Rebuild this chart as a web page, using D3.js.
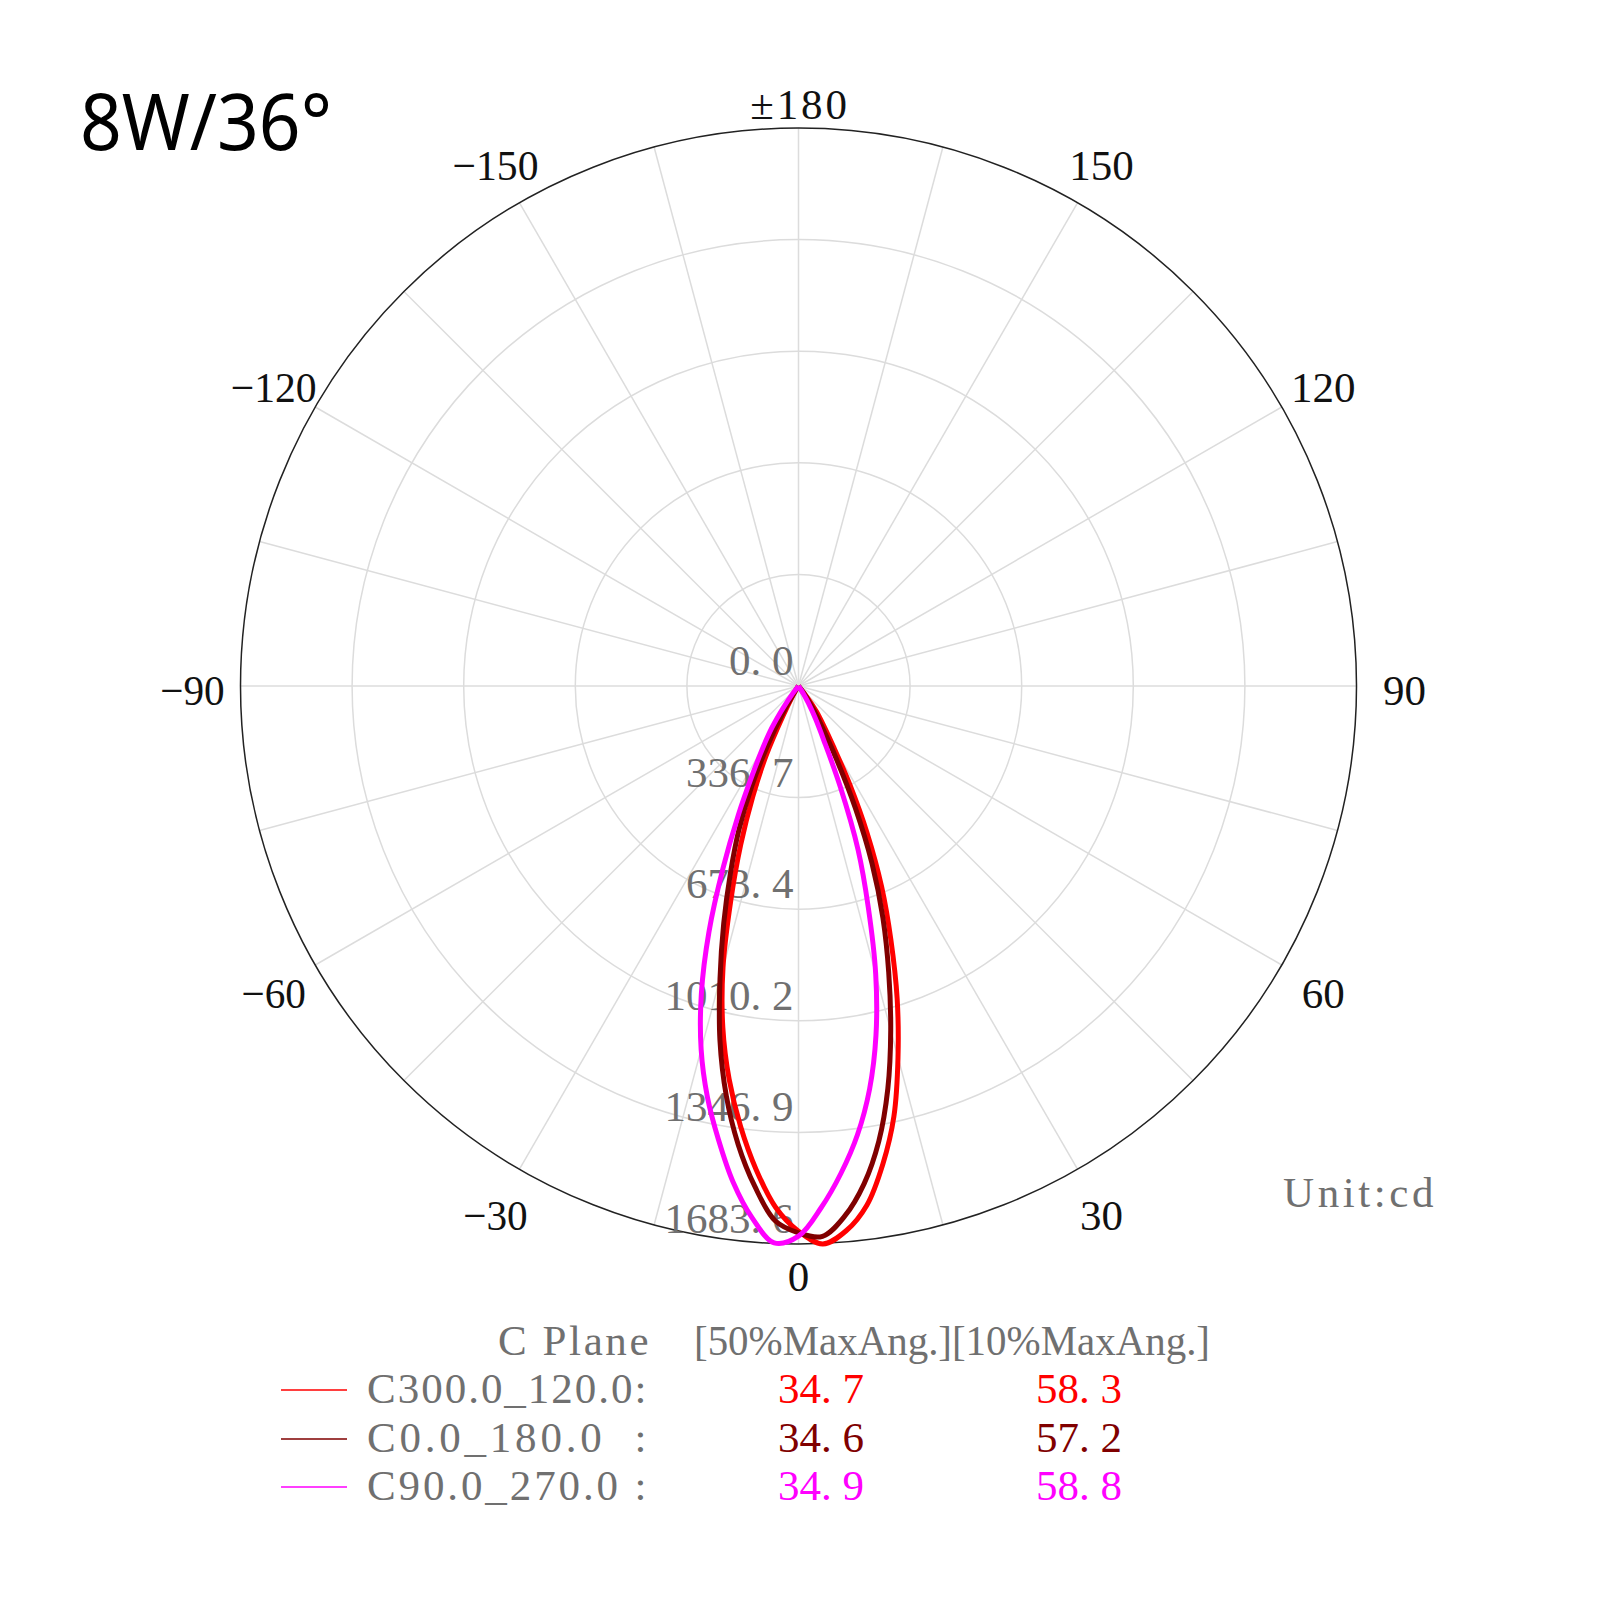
<!DOCTYPE html>
<html>
<head>
<meta charset="utf-8">
<script src="https://cdn.jsdelivr.net/npm/d3@7"></script>
<style>
  body { margin: 0; background: #fff; }
  text { white-space: pre; }
</style>
</head>
<body>
<svg id="chart" width="1600" height="1600"></svg>
<script>
// ---- data ----
const title = "8W/36°";
const unitLabel = "Unit:cd";
const maxValue = 1683.6;

// gamma angle in degrees, 0 = straight down, + to the right
const gammaAngles = [-40, -37.5, -35, -32.5, -30, -27.5, -25, -22.5, -20, -17.5, -15, -12.5, -10, -7.5, -5, -2.5,
    0, 2.5, 5, 7.5, 10, 12.5, 15, 17.5, 20, 22.5, 25, 27.5, 30, 32.5, 35, 37.5, 40];

const c300_120 = [0, 0, 0, 10, 40, 100, 230, 360, 510, 680, 880, 1055, 1205, 1340, 1465, 1575,
    1645, 1685, 1650, 1580, 1465, 1330, 1160, 990, 815, 655, 490, 335, 210, 140, 95, 45, 0];
const c0_180 = [0, 0, 5, 30, 95, 200, 335, 470, 600, 750, 915, 1095, 1255, 1395, 1515, 1615,
    1650, 1662, 1605, 1515, 1395, 1245, 1075, 905, 745, 580, 405, 245, 140, 85, 45, 15, 0];
const c90_270 = [0, 30, 80, 150, 215, 300, 430, 595, 790, 975, 1135, 1270, 1390, 1510, 1610, 1682,
    1660, 1575, 1475, 1365, 1235, 1080, 900, 700, 525, 330, 180, 110, 60, 25, 0, 0, 0];

const planeNames = ["C300.0_120.0:", "C0.0_180.0  :", "C90.0_270.0 :"];
const halfMaxAng = [34.7, 34.6, 34.9];
const tenthMaxAng = [58.3, 57.2, 58.8];
const planeColors = ["#ff0000", "#800000", "#ff00ff"];
const planeSeries = [c300_120, c0_180, c90_270];

const angleTicks = [0, 30, 60, 90, 120, 150, 180, -150, -120, -90, -60, -30];
const angleTickLabels = ["0", "30", "60", "90", "120", "150", "±180", "−150", "−120", "−90", "−60", "−30"];
const legendHeaderPlane = "C Plane";
const legendHeaderAngles = "[50%MaxAng.][10%MaxAng.]";

// ---- layout ----
const cx = 798.5, cy = 686, R = 558;
const fontSize = 43;
const serif = "'Liberation Serif', 'DejaVu Serif', serif";
const grey = "#707070";

const svg = d3.select("#chart");
const rScale = d3.scaleLinear().domain([0, maxValue]).range([0, R]);
const ringValues = d3.range(0, 6).map(i => maxValue * i / 5);
const spokeAngles = d3.range(0, 360, 15);

// angle 0 at the bottom, positive to the right
const toRad = deg => (180 - deg) * Math.PI / 180;

// the reference font is half-width monospace; ± is a bit wider
function cellCount(str) {
    let n = 0;
    for (const ch of str) n += ch === "±" ? 1.5 : 1;
    return n;
}

function monoText(sel, str) {
    sel.text(str);
    const target = cellCount(str) * fontSize * 0.5;
    const natural = sel.node().getComputedTextLength();
    sel.attr("textLength", target)
        .attr("lengthAdjust", natural > target ? "spacingAndGlyphs" : "spacing");
    return sel;
}

// numbers: digits are already half-width, the point gets a full cell
function numText(sel, str) {
    const parts = str.split(".");
    sel.text(null);
    sel.append("tspan").text(parts[0] + ".");
    sel.append("tspan").attr("dx", "0.25em").text(parts[1]);
    return sel;
}

const plot = svg.append("g").attr("transform", `translate(${cx},${cy})`);

// rings
plot.selectAll(".ring")
    .data(ringValues.slice(1, -1))
    .join("circle")
    .attr("class", "ring")
    .attr("r", d => rScale(d))
    .attr("fill", "none")
    .attr("stroke", "#dcdcdc")
    .attr("stroke-width", 1.5);

// spokes
plot.selectAll(".spoke")
    .data(spokeAngles)
    .join("line")
    .attr("class", "spoke")
    .attr("x1", 0).attr("y1", 0)
    .attr("x2", d => R * Math.sin(toRad(d)))
    .attr("y2", d => -R * Math.cos(toRad(d)))
    .attr("stroke", "#dcdcdc")
    .attr("stroke-width", 1.5);

// outer circle
plot.append("circle")
    .attr("r", R)
    .attr("fill", "none")
    .attr("stroke", "#222")
    .attr("stroke-width", 1.5);

// ring value labels
plot.selectAll(".ring-label")
    .data(ringValues)
    .join("text")
    .attr("class", "ring-label")
    .attr("x", -5)
    .attr("y", d => rScale(d) - 11)
    .attr("text-anchor", "end")
    .attr("font-family", serif)
    .attr("font-size", fontSize)
    .attr("fill", grey)
    .each(function (d) { numText(d3.select(this), d.toFixed(1)); });

// angle labels, pulled in a little at top and bottom
const labelRadius = d => R + 48 - (Math.abs(Math.cos(toRad(d))) > 0.99 ? 20 : 0);

plot.selectAll(".angle-label")
    .data(angleTicks)
    .join("text")
    .attr("class", "angle-label")
    .attr("x", d => labelRadius(d) * Math.sin(toRad(d)))
    .attr("y", d => -labelRadius(d) * Math.cos(toRad(d)))
    .attr("dy", "0.44em")
    .attr("text-anchor", "middle")
    .attr("font-family", serif)
    .attr("font-size", fontSize)
    .attr("fill", "#111")
    .each(function (d, i) { monoText(d3.select(this), angleTickLabels[i]); });

// intensity curves
const radial = d3.lineRadial()
    .angle((d, i) => toRad(gammaAngles[i]))
    .radius(d => rScale(d))
    .curve(d3.curveCatmullRom.alpha(0.5));

plot.selectAll(".curve")
    .data(planeSeries)
    .join("path")
    .attr("class", "curve")
    .attr("d", d => radial(d))
    .attr("fill", "none")
    .attr("stroke", (d, i) => planeColors[i])
    .attr("stroke-width", 5)
    .attr("stroke-linejoin", "round");

// title
svg.append("text")
    .attr("x", 80)
    .attr("y", 150)
    .attr("font-family", "'Noto Sans', 'Open Sans', sans-serif")
    .attr("font-size", 79)
    .attr("textLength", 252)
    .attr("lengthAdjust", "spacingAndGlyphs")
    .attr("fill", "#000")
    .text(title);

// unit
monoText(svg.append("text")
    .attr("x", 1283)
    .attr("y", 1207)
    .attr("font-family", serif)
    .attr("font-size", fontSize)
    .attr("fill", grey), unitLabel);

// legend
const legend = svg.append("g")
    .attr("font-family", serif)
    .attr("font-size", fontSize);

monoText(legend.append("text")
    .attr("x", 498)
    .attr("y", 1355)
    .attr("fill", grey), legendHeaderPlane);

monoText(legend.append("text")
    .attr("x", 694)
    .attr("y", 1355)
    .attr("fill", grey), legendHeaderAngles);

const rowY = [1403, 1452, 1500];

const rows = legend.selectAll(".legend-row")
    .data(planeNames)
    .join("g")
    .attr("class", "legend-row")
    .attr("transform", (d, i) => `translate(0,${rowY[i]})`);

rows.append("line")
    .attr("x1", 281).attr("x2", 347)
    .attr("y1", -13).attr("y2", -13)
    .attr("stroke", (d, i) => planeColors[i])
    .attr("stroke-width", 2)
    .attr("opacity", 0.75);

rows.append("text")
    .attr("x", 367)
    .attr("fill", grey)
    .each(function (d) { monoText(d3.select(this), d); });

rows.append("text")
    .attr("x", 778)
    .attr("fill", (d, i) => planeColors[i])
    .each(function (d, i) { numText(d3.select(this), halfMaxAng[i].toFixed(1)); });

rows.append("text")
    .attr("x", 1036)
    .attr("fill", (d, i) => planeColors[i])
    .each(function (d, i) { numText(d3.select(this), tenthMaxAng[i].toFixed(1)); });
</script>
</body>
</html>
